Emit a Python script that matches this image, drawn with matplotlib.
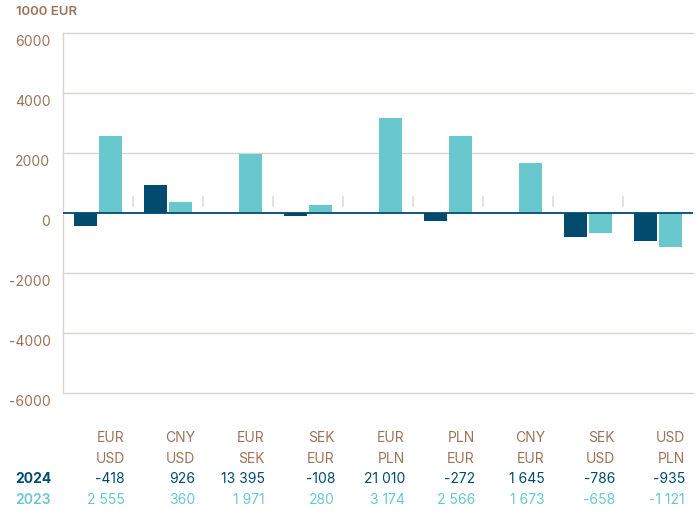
import numpy as np
import matplotlib.pyplot as plt
import matplotlib.transforms as mtransforms

plt.rcParams['font.family'] = ['Inter', 'DejaVu Sans']

# currency pairs (top / bottom row of the table)
pair_top = ['EUR', 'CNY', 'EUR', 'SEK', 'EUR', 'PLN', 'CNY', 'SEK', 'USD']
pair_bottom = ['USD', 'USD', 'SEK', 'EUR', 'PLN', 'EUR', 'EUR', 'USD', 'PLN']

# values printed in the table
labels_2024 = ['-418', '926', '13 395', '-108', '21 010', '-272', '1 645', '-786', '-935']
labels_2023 = ['2 555', '360', '1 971', '280', '3 174', '2 566', '1 673', '-658', '-1 121']

# bar heights as drawn (1000 EUR)
bars_2024 = [-418, 926, 0, -108, 0, -272, 0, -786, -935]
bars_2023 = [2555, 360, 1971, 280, 3174, 2566, 1673, -658, -1121]

yticks = [-6000, -4000, -2000, 0, 2000, 4000, 6000]

dark = '#004B6E'
light = '#68C8CE'
brown = '#9B7358'
grid = '#DDD5CC'

fig = plt.figure(figsize=(6.96, 5.11), dpi=100)
ax = fig.add_axes([63 / 696, 1 - 393 / 511, 630 / 696, 360 / 511])

x = np.arange(len(pair_top))
w = 0.33
ax.bar(x - w / 2 - 0.01, bars_2024, w, color=dark, zorder=3)
ax.bar(x + w / 2 + 0.01, bars_2023, w, color=light, zorder=3)

ax.set_xlim(-0.5, len(x) - 0.5)
ax.set_ylim(-6000, 6000)
ax.set_yticks(yticks)
ax.set_yticklabels([str(v) for v in yticks])
ax.tick_params(axis='y', length=0, pad=9, labelsize=10, labelcolor=brown)
ax.set_xticks([])
# labels sit a little below their gridlines
off = mtransforms.ScaledTranslation(0, -7 / 100, fig.dpi_scale_trans)
for lab in ax.get_yticklabels():
    lab.set_transform(lab.get_transform() + off)

for v in yticks:
    if v != 0:
        ax.axhline(v, color=grid, lw=1, zorder=1, clip_on=False)
ax.axhline(0, color=dark, lw=1.3, zorder=4)

for s in ['top', 'right', 'bottom']:
    ax.spines[s].set_visible(False)
ax.spines['left'].set_color(grid)
ax.spines['left'].set_linewidth(1)

# little separators between groups
for xi in x[:-1] + 0.5:
    ax.plot([xi, xi], [220, 520], color='#DCDCDC', lw=1.2, zorder=2)

fig.text(16 / 696, 1 - 12 / 511, '1000 EUR', color=brown, fontsize=9.5,
         fontweight='semibold', va='center', ha='left')

tr = mtransforms.blended_transform_factory(ax.transData, fig.transFigure)
rows = [(pair_top, 438, brown), (pair_bottom, 459, brown),
        (labels_2024, 479, dark), (labels_2023, 500, light)]
for texts, ypix, col in rows:
    for xi, t in zip(x, texts):
        ax.text(xi + 0.385, 1 - ypix / 511, t, transform=tr, ha='right',
                va='center', color=col, fontsize=10, clip_on=False)

fig.text(15 / 696, 1 - 479 / 511, '2024', color=dark, fontsize=10,
         fontweight='bold', va='center', ha='left')
fig.text(15 / 696, 1 - 500 / 511, '2023', color=light, fontsize=10,
         fontweight='semibold', va='center', ha='left')

fig.savefig('out.png', dpi=100)
